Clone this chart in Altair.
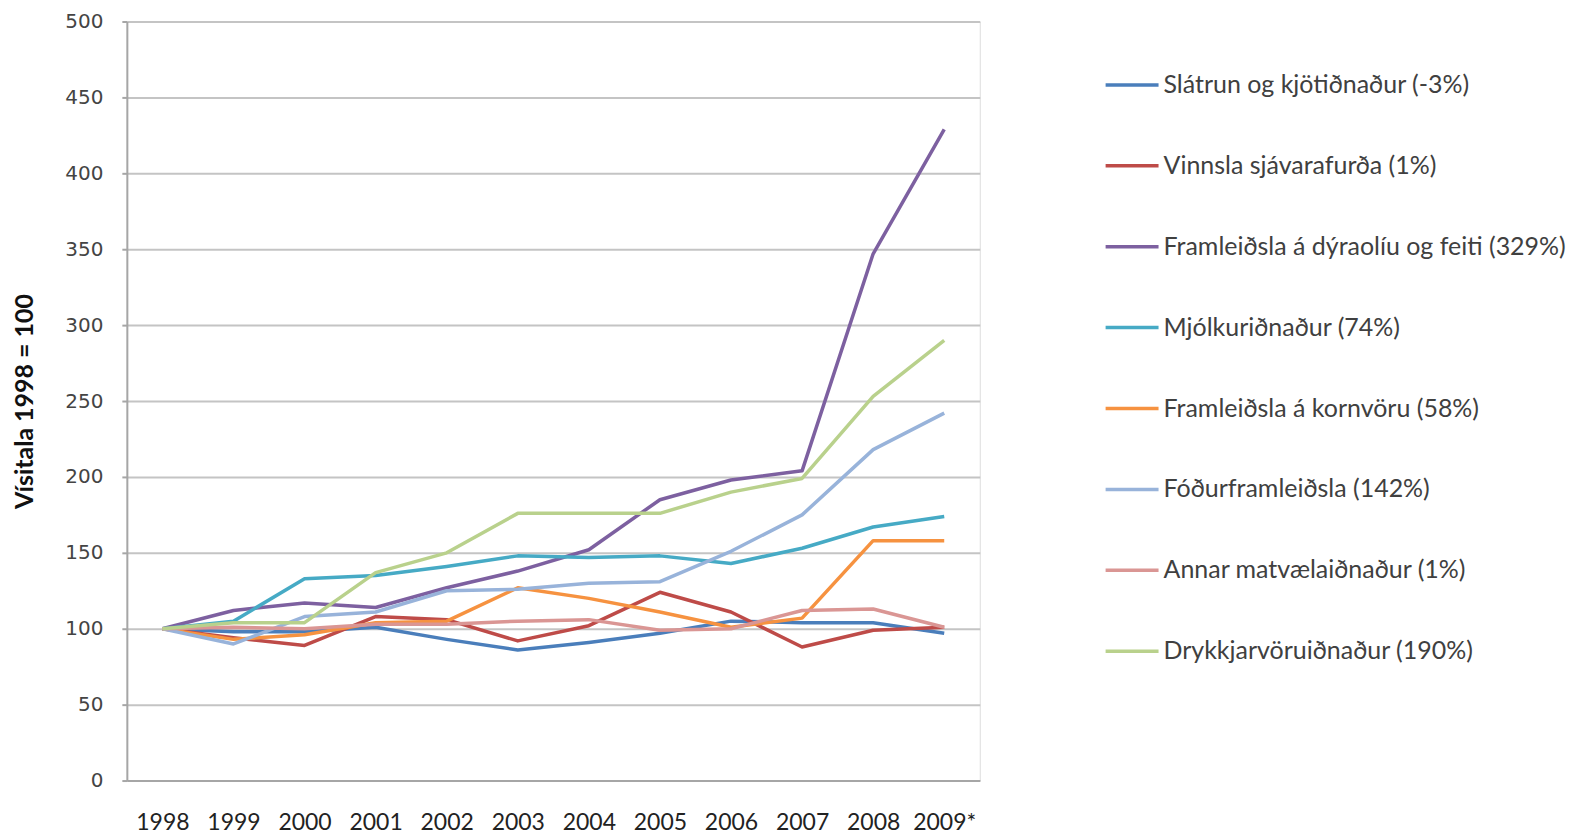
import altair as alt
import pandas as pd

years = ["1998", "1999", "2000", "2001", "2002", "2003", "2004", "2005", "2006", "2007", "2008", "2009*"]

series_names = [
    "Slátrun og kjötiðnaður (-3%)",
    "Vinnsla sjávarafurða (1%)",
    "Framleiðsla á dýraolíu og feiti (329%)",
    "Mjólkuriðnaður (74%)",
    "Framleiðsla á kornvöru (58%)",
    "Fóðurframleiðsla (142%)",
    "Annar matvælaiðnaður (1%)",
    "Drykkjarvöruiðnaður (190%)",
]

slatrun = [100, 98, 98, 101, 93, 86, 91, 97, 105, 104, 104, 97]
sjavar = [100, 94, 89, 108, 106, 92, 102, 124, 111, 88, 99, 101]
dyraoliu = [100, 112, 117, 114, 127, 138, 152, 185, 198, 204, 347, 429]
mjolk = [100, 105, 133, 135, 141, 148, 147, 148, 143, 153, 167, 174]
kornvara = [100, 93, 96, 104, 105, 127, 120, 111, 101, 107, 158, 158]
fodur = [100, 90, 108, 111, 125, 126, 130, 131, 151, 175, 218, 242]
annar = [100, 101, 100, 103, 103, 105, 106, 99, 100, 112, 113, 101]
drykkir = [100, 104, 104, 137, 150, 176, 176, 176, 190, 199, 253, 290]

colors = ["#4A7EBB", "#BE4B48", "#7D60A0", "#46AAC5", "#F69240", "#98B3DA", "#DA9694", "#B9D18C"]

all_values = [slatrun, sjavar, dyraoliu, mjolk, kornvara, fodur, annar, drykkir]
rows = []
for name, vals in zip(series_names, all_values):
    for i, (yr, v) in enumerate(zip(years, vals)):
        rows.append({"Ár": yr, "Vísitala": v, "Röð": name, "order": i})
df = pd.DataFrame(rows)

chart = alt.Chart(df).mark_line(strokeWidth=3.5, strokeJoin="round").encode(
    x=alt.X(
        "Ár:N",
        sort=years,
        scale=alt.Scale(type="point", padding=0.5),
        axis=alt.Axis(
            title=None,
            labelAngle=0,
            labelFont="Lato",
            labelFontSize=23,
            labelColor="#222222",
            labelPadding=31,
            ticks=False,
            domainColor="#A6A6A6",
            domainWidth=2,
            grid=False,
        ),
    ),
    y=alt.Y(
        "Vísitala:Q",
        scale=alt.Scale(domain=[0, 500], nice=False),
        axis=alt.Axis(
            title="Vísitala 1998 = 100",
            titleFont="Lato",
            titleFontSize=25,
            titleFontWeight="bold",
            titleColor="#111111",
            titleAngle=-90,
            titleX=-102,
            titleY=380,
            titleBaseline="middle",
            titleAlign="center",
            values=[0, 50, 100, 150, 200, 250, 300, 350, 400, 450, 500],
            labelFont="DejaVu Sans",
            labelFontSize=20,
            labelColor="#444444",
            labelPadding=19,
            tickSize=5,
            tickColor="#A6A6A6",
            tickWidth=2,
            domainColor="#A6A6A6",
            domainWidth=2,
            gridColor="#C4C4C4",
            gridWidth=2,
        ),
    ),
    color=alt.Color(
        "Röð:N",
        sort=series_names,
        scale=alt.Scale(domain=series_names, range=colors),
        legend=alt.Legend(
            title=None,
            orient="none",
            legendX=978,
            legendY=35,
            symbolType="stroke",
            symbolSize=2809,
            symbolStrokeWidth=3.5,
            labelFont="Lato",
            labelFontSize=25,
            labelColor="#404040",
            labelOffset=3,
            rowPadding=39,
            padding=0,
            labelLimit=600,
        ),
    ),
    order="order:Q",
).properties(
    width=854,
    height=760,
    padding={"left": 119, "top": 13, "right": 605, "bottom": 55},
    autosize=alt.AutoSizeParams(type="none"),
).configure_view(stroke=None).configure(background="white")

chart.save("out.html", embed_options={"renderer": "svg", "actions": False})
